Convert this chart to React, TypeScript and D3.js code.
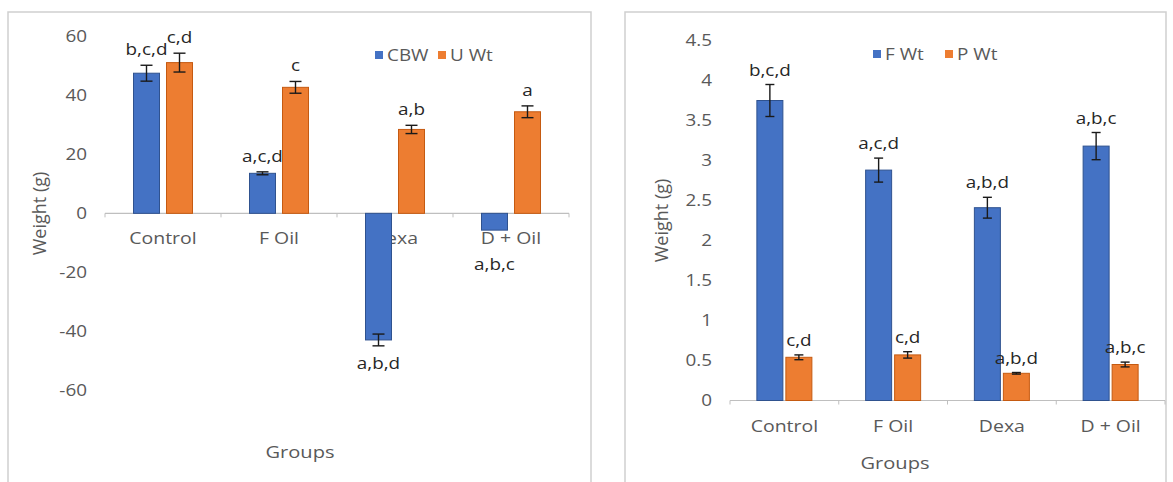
import React from "react";
import * as d3 from "d3";

// ---------- data ----------
const categories = ["Control", "F Oil", "Dexa", "D + Oil"];

// left panel
const leftSeriesNames = ["CBW", "U Wt"];
const cbwValues = [47.6, 13.6, -43.0, -5.7];
const cbwErrors = [2.7, 0.5, 2.0, 0];
const cbwLetters = ["b,c,d", "a,c,d", "a,b,d", "a,b,c"];
const uwtValues = [51.2, 42.8, 28.5, 34.5];
const uwtErrors = [3.2, 2.0, 1.4, 2.0];
const uwtLetters = ["c,d", "c", "a,b", "a"];
const leftTicks = [60, 40, 20, 0, -20, -40, -60];

// right panel
const rightSeriesNames = ["F Wt", "P Wt"];
const fwtValues = [3.75, 2.88, 2.41, 3.18];
const fwtErrors = [0.2, 0.15, 0.13, 0.17];
const fwtLetters = ["b,c,d", "a,c,d", "a,b,d", "a,b,c"];
const pwtValues = [0.54, 0.57, 0.34, 0.45];
const pwtErrors = [0.03, 0.04, 0.01, 0.03];
const pwtLetters = ["c,d", "c,d", "a,b,d", "a,b,c"];
const rightTicks = [0, 0.5, 1, 1.5, 2, 2.5, 3, 3.5, 4, 4.5];

const BLUE = "#4472C4";
const ORANGE = "#ED7D31";
const BLUE_EDGE = "#2F528F";
const ORANGE_EDGE = "#C55A11";
const FONT = "'Open Sans', 'Noto Sans', sans-serif";
const GREY = "#595959";
const SX = 1.18;

type TProps = { x: number; y: number; anchor?: string; size: number; fill: string; children: React.ReactNode; central?: boolean };
function T({ x, y, anchor = "start", size, fill, children, central }: TProps) {
  return (
    <text transform={`translate(${x},${y}) scale(${SX},1)`} textAnchor={anchor} dy={central ? "0.35em" : undefined}
      fontSize={size} fill={fill}>{children}</text>
  );
}

type Series = { name: string; values: number[]; errors: number[]; letters: string[]; fill: string; edge: string };

type PanelProps = {
  frame: [number, number, number, number];
  plotX: [number, number];
  plotY: [number, number];
  domain: [number, number];
  ticks: number[];
  tickRight: number;
  series: Series[];
  barW: number;
  gap: number;
  cap: number;
  legendX: number;
  legendY: number;
  legendGap: number;
  yTitle: [number, number];
  xTitle: [number, number];
  aboveOff: number;
};

function Panel(p: PanelProps) {
  const x = d3.scaleBand<string>().domain(categories).range(p.plotX).padding(0);
  const y = d3.scaleLinear().domain(p.domain).range(p.plotY);
  const bw = x.bandwidth();
  const y0 = y(0);
  const [fx, fy, fw, fh] = p.frame;
  const catBase = y0 + 31;

  const bars: React.ReactNode[] = [];
  const errs: React.ReactNode[] = [];
  const labels: React.ReactNode[] = [];
  p.series.forEach((s, si) => {
    s.values.forEach((v, ci) => {
      const c = categories[ci];
      const cx = (x(c) as number) + bw / 2 + (si - 0.5) * (p.barW + p.gap);
      const yv = y(v);
      bars.push(
        <rect key={`b${si}-${ci}`} x={cx - p.barW / 2} width={p.barW}
          y={Math.min(yv, y0)} height={Math.abs(yv - y0)}
          fill={s.fill} stroke={s.edge} strokeWidth={1} />
      );
      const e = s.errors[ci];
      if (e > 0) {
        const yt = y(v + e), yb = y(v - e);
        errs.push(
          <g key={`e${si}-${ci}`} stroke="#1a1a1a" strokeWidth={1.4}>
            <line x1={cx} x2={cx} y1={yt} y2={yb} />
            <line x1={cx - p.cap / 2} x2={cx + p.cap / 2} y1={yt} y2={yt} />
            <line x1={cx - p.cap / 2} x2={cx + p.cap / 2} y1={yb} y2={yb} />
          </g>
        );
      }
      let ly: number;
      if (v >= 0) {
        ly = y(v + e) - p.aboveOff;
      } else {
        ly = Math.max(y(v - e) + 23, catBase + 26);
      }
      labels.push(
        <T key={`l${si}-${ci}`} x={cx} y={ly} anchor="middle" size={16} fill="#262626">{s.letters[ci]}</T>
      );
    });
  });

  const bounds = [...categories.map((c) => x(c) as number), p.plotX[1]];

  return (
    <g fontFamily={FONT}>
      <rect x={fx} y={fy} width={fw} height={fh} fill="#fff" stroke="#cfcfcf" strokeWidth={1.5} />
      {p.ticks.map((t) => (
        <T key={`t${t}`} x={p.tickRight} y={y(t)} central anchor="end" size={16} fill={GREY}>{String(t)}</T>
      ))}
      <line x1={p.plotX[0]} x2={p.plotX[1]} y1={y0} y2={y0} stroke="#bfbfbf" strokeWidth={1.2} />
      {bounds.map((b, i) => (
        <line key={`k${i}`} x1={b} x2={b} y1={y0} y2={y0 + 4} stroke="#bfbfbf" strokeWidth={1} />
      ))}
      {categories.map((c) => (
        <T key={`c${c}`} x={(x(c) as number) + bw / 2} y={catBase} anchor="middle" size={16.5} fill={GREY}>{c}</T>
      ))}
      {bars}
      {errs}
      {labels}
      {(() => {
        let lx = p.legendX;
        return p.series.map((s, i) => {
          const g = (
            <g key={`lg${i}`}>
              <rect x={lx} y={p.legendY - 4} width={8} height={8} fill={s.fill} />
              <T x={lx + 12} y={p.legendY} central size={16} fill={GREY}>{s.name}</T>
            </g>
          );
          lx += p.legendGap;
          return g;
        });
      })()}
      <text transform={`translate(${p.yTitle[0]},${p.yTitle[1]}) rotate(-90)`} textAnchor="middle" dy="0.35em" fontSize={18} fill={GREY}>Weight (g)</text>
      <T x={p.xTitle[0]} y={p.xTitle[1]} anchor="middle" central size={17} fill={GREY}>Groups</T>
    </g>
  );
}

export default function App() {
  const leftSeries: Series[] = [
    { name: leftSeriesNames[0], values: cbwValues, errors: cbwErrors, letters: cbwLetters, fill: BLUE, edge: BLUE_EDGE },
    { name: leftSeriesNames[1], values: uwtValues, errors: uwtErrors, letters: uwtLetters, fill: ORANGE, edge: ORANGE_EDGE },
  ];
  const rightSeries: Series[] = [
    { name: rightSeriesNames[0], values: fwtValues, errors: fwtErrors, letters: fwtLetters, fill: BLUE, edge: BLUE_EDGE },
    { name: rightSeriesNames[1], values: pwtValues, errors: pwtErrors, letters: pwtLetters, fill: ORANGE, edge: ORANGE_EDGE },
  ];
  return (
    <svg width={1173} height={482} style={{ position: "absolute", left: 0, top: 0, background: "#fff" }}>
      <Panel
        frame={[8, 12, 583, 480]}
        plotX={[105, 569]}
        plotY={[390, 36.7]}
        domain={[-60, 60]}
        ticks={leftTicks}
        tickRight={87}
        series={leftSeries}
        barW={26}
        gap={7}
        cap={12}
        legendX={375}
        legendY={55}
        legendGap={63}
        yTitle={[40, 213.5]}
        xTitle={[300, 452]}
        aboveOff={10}
      />
      <Panel
        frame={[625, 12, 541, 480]}
        plotX={[730, 1165]}
        plotY={[400.5, 40.5]}
        domain={[0, 4.5]}
        ticks={rightTicks}
        tickRight={712}
        series={rightSeries}
        barW={26}
        gap={3}
        cap={9}
        legendX={873}
        legendY={54}
        legendGap={72}
        yTitle={[662, 220.5]}
        xTitle={[895, 463]}
        aboveOff={9}
      />
    </svg>
  );
}
